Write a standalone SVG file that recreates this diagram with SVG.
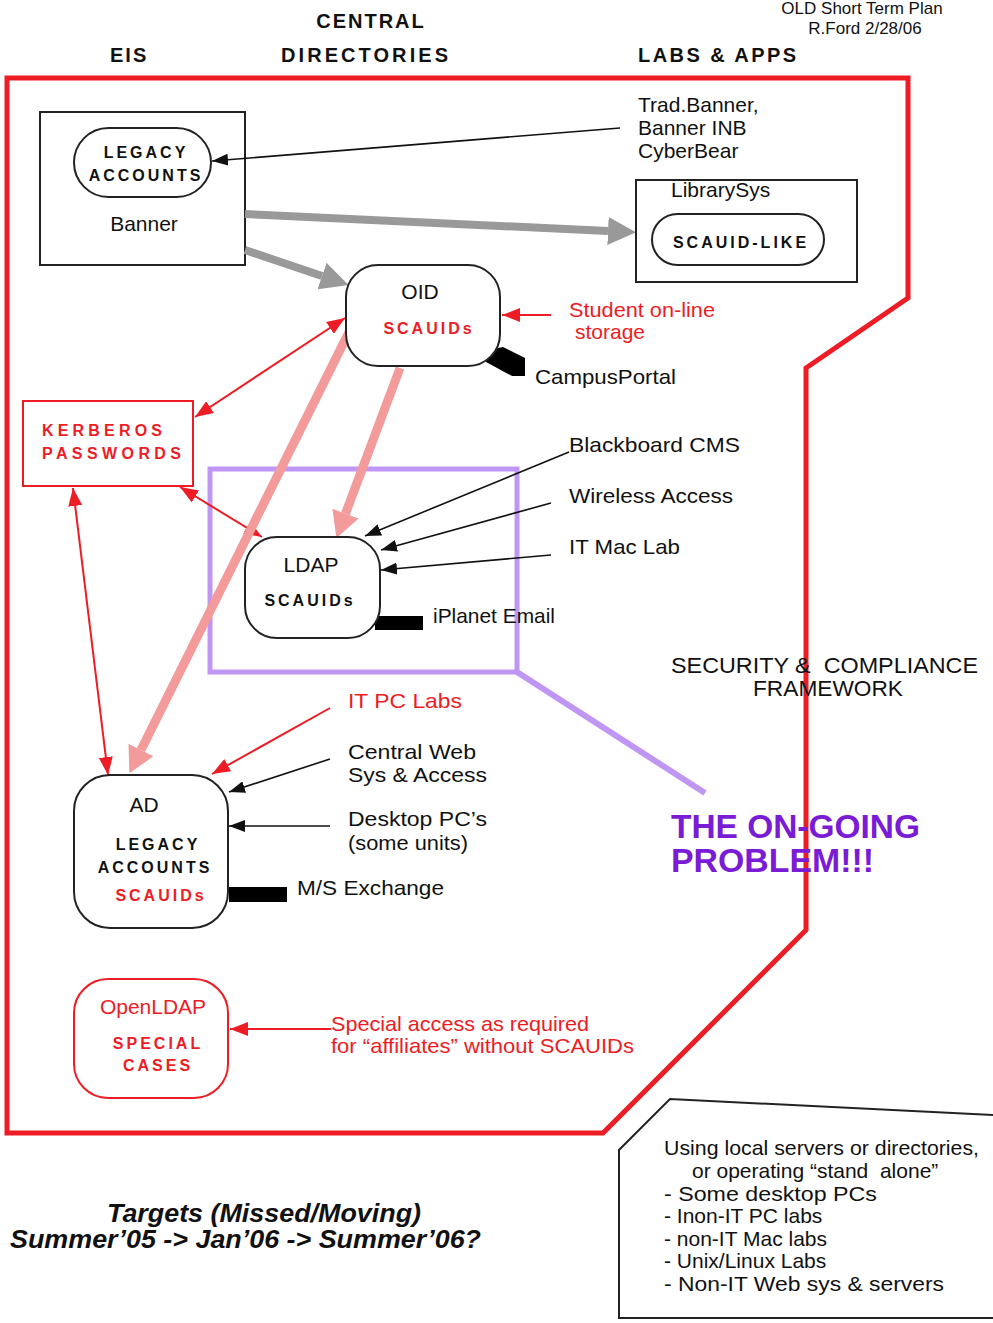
<svg xmlns="http://www.w3.org/2000/svg" width="993" height="1323" viewBox="0 0 993 1323">
<style>
text{font-family:"Liberation Sans",Arial,Helvetica,sans-serif;fill:#111}
.lbl{font-size:21px}
.hdr{font-size:20px;font-weight:bold;letter-spacing:2px}
.caps{font-size:16px;font-weight:bold;letter-spacing:3px}
.red{fill:#ee1c24}
.node{fill:#fff;stroke:#222;stroke-width:2}
.thin{stroke:#111;stroke-width:1.6;fill:none}
.rthin{stroke:#ee1c24;stroke-width:2;fill:none}
</style>
<defs>
<marker id="ab" markerUnits="userSpaceOnUse" markerWidth="16" markerHeight="12" refX="16" refY="6" orient="auto"><path d="M0,0 L16,6 L0,12 z" fill="#111"/></marker>
<marker id="ar" markerUnits="userSpaceOnUse" markerWidth="18" markerHeight="14" refX="18" refY="7" orient="auto-start-reverse"><path d="M0,0 L18,7 L0,14 z" fill="#ee1c24"/></marker>
<marker id="ag" markerUnits="userSpaceOnUse" markerWidth="28" markerHeight="28" refX="0" refY="14" orient="auto"><path d="M0,0 L28,14 L0,28 z" fill="#999"/></marker>
<marker id="ap" markerUnits="userSpaceOnUse" markerWidth="26" markerHeight="28" refX="0" refY="14" orient="auto"><path d="M0,0 L26,14 L0,28 z" fill="#f39b9b"/></marker>
</defs>
<rect width="993" height="1323" fill="#fff"/>

<g id="headers">
<text x="371" y="28" class="hdr" text-anchor="middle">CENTRAL</text>
<text x="110" y="62" class="hdr">EIS</text>
<text x="281" y="62" class="hdr" textLength="169">DIRECTORIES</text>
<text x="638" y="62" class="hdr" textLength="160">LABS &amp; APPS</text>
<text x="862" y="14" font-size="17" text-anchor="middle">OLD Short Term Plan</text>
<text x="865" y="34" font-size="17" text-anchor="middle">R.Ford 2/28/06</text>
</g>

<g id="frame">
<polygon points="7,78 908,78 908,298 806,368 806,930 603,1133 7,1133" fill="none" stroke="#ee1c24" stroke-width="5"/>
</g>

<g id="problem-box">
<polyline points="517,672 705,793" fill="none" stroke="#c096f5" stroke-width="6"/>
<rect x="210" y="469" width="307" height="203" fill="none" stroke="#c096f5" stroke-width="5"/>
</g>

<g id="banner">
<rect x="40" y="112" width="205" height="153" fill="none" stroke="#222" stroke-width="2"/>
<rect x="74" y="128" width="137" height="69" rx="34.5" class="node"/>
<text x="146" y="158" class="caps" font-size="17" text-anchor="middle">LEGACY</text>
<text x="146" y="181" class="caps" font-size="17" text-anchor="middle">ACCOUNTS</text>
<text x="144" y="231" class="lbl" text-anchor="middle">Banner</text>
</g>

<g id="connectors">
<line x1="620" y1="128" x2="212" y2="161" class="thin" marker-end="url(#ab)"/>
<line x1="245" y1="214" x2="608" y2="231" stroke="#999" stroke-width="8" marker-end="url(#ag)"/>
<line x1="245" y1="250" x2="322" y2="276" stroke="#999" stroke-width="8" marker-end="url(#ag)"/>
<line x1="551" y1="315" x2="502" y2="315" class="rthin" marker-end="url(#ar)"/>
<polygon points="488,350 503,347 525,358 525,376 512,376 486,362" fill="#000"/>
<line x1="195" y1="417" x2="345" y2="318" class="rthin" marker-start="url(#ar)" marker-end="url(#ar)"/>
<line x1="180" y1="487" x2="262" y2="537" class="rthin" marker-start="url(#ar)" marker-end="url(#ar)"/>
<line x1="73" y1="488" x2="108" y2="775" class="rthin" marker-start="url(#ar)" marker-end="url(#ar)"/>
<line x1="350" y1="330" x2="141" y2="750" stroke="#f39b9b" stroke-width="9" marker-end="url(#ap)"/>
<line x1="400" y1="368" x2="345.5" y2="513.6" stroke="#f39b9b" stroke-width="9" marker-end="url(#ap)"/>
<polyline points="569,452 365,536" class="thin" marker-end="url(#ab)"/>
<line x1="551" y1="503" x2="381" y2="550" class="thin" marker-end="url(#ab)"/>
<line x1="551" y1="555" x2="381" y2="570" class="thin" marker-end="url(#ab)"/>
<rect x="375" y="616" width="48" height="14" fill="#000"/>
<line x1="330" y1="708" x2="212" y2="774" class="rthin" marker-end="url(#ar)"/>
<line x1="330" y1="759" x2="229" y2="792" class="thin" marker-end="url(#ab)"/>
<line x1="330" y1="826" x2="229" y2="826" class="thin" marker-end="url(#ab)"/>
<rect x="229" y="887" width="58" height="15" fill="#000"/>
<line x1="331" y1="1029" x2="230" y2="1029" class="rthin" marker-end="url(#ar)"/>
</g>

<g id="trad-banner">
<text x="638" y="112" class="lbl">Trad.Banner,</text>
<text x="638" y="135" class="lbl">Banner INB</text>
<text x="638" y="158" class="lbl">CyberBear</text>
</g>

<g id="librarysys">
<rect x="636" y="180" width="221" height="102" fill="none" stroke="#222" stroke-width="2"/>
<text x="671" y="197" class="lbl">LibrarySys</text>
<rect x="652" y="214" width="172" height="51" rx="25.5" class="node"/>
<text x="741" y="248" class="caps" text-anchor="middle">SCAUID-LIKE</text>
</g>

<g id="oid">
<rect x="346" y="265" width="154" height="101" rx="32" class="node"/>
<text x="420" y="299" class="lbl" text-anchor="middle">OID</text>
<text x="429" y="334" class="caps red" text-anchor="middle">SCAUIDs</text>
</g>

<g id="student-storage">
<text x="569" y="317" class="lbl red" textLength="146" lengthAdjust="spacingAndGlyphs">Student on-line</text>
<text x="575" y="339" class="lbl red">storage</text>
</g>
<g id="campusportal"><text x="535" y="384" class="lbl" textLength="141" lengthAdjust="spacingAndGlyphs">CampusPortal</text></g>

<g id="kerberos">
<rect x="23" y="401" width="170" height="85" fill="#fff" stroke="#ee1c24" stroke-width="2"/>
<text x="42" y="436" class="caps red" font-size="17" textLength="123">KERBEROS</text>
<text x="42" y="459" class="caps red" font-size="17" textLength="142">PASSWORDS</text>
</g>

<g id="ldap">
<rect x="245" y="537" width="135" height="101" rx="32" class="node"/>
<text x="311" y="572" class="lbl" text-anchor="middle">LDAP</text>
<text x="310" y="606" class="caps" text-anchor="middle">SCAUIDs</text>
</g>

<g id="lab-labels">
<text x="569" y="452" class="lbl" textLength="171" lengthAdjust="spacingAndGlyphs">Blackboard CMS</text>
<text x="569" y="503" class="lbl" textLength="164" lengthAdjust="spacingAndGlyphs">Wireless Access</text>
<text x="569" y="554" class="lbl" textLength="111" lengthAdjust="spacingAndGlyphs">IT Mac Lab</text>
<text x="433" y="623" class="lbl" textLength="122" lengthAdjust="spacingAndGlyphs">iPlanet Email</text>
</g>

<g id="security">
<text x="671" y="673" font-size="22" textLength="307" lengthAdjust="spacingAndGlyphs" xml:space="preserve">SECURITY &amp;  COMPLIANCE</text>
<text x="753" y="696" font-size="22" textLength="150" lengthAdjust="spacingAndGlyphs">FRAMEWORK</text>
</g>

<g id="ongoing">
<text x="671" y="838" font-size="33" font-weight="bold" style="fill:#7a1cd6" textLength="249" lengthAdjust="spacingAndGlyphs">THE ON-GOING</text>
<text x="671" y="872" font-size="33" font-weight="bold" style="fill:#7a1cd6" textLength="203" lengthAdjust="spacingAndGlyphs">PROBLEM!!!</text>
</g>

<g id="ad-labels">
<text x="348" y="708" class="lbl red" textLength="114" lengthAdjust="spacingAndGlyphs">IT PC Labs</text>
<text x="348" y="759" class="lbl" textLength="128" lengthAdjust="spacingAndGlyphs">Central Web</text>
<text x="348" y="782" class="lbl" textLength="139" lengthAdjust="spacingAndGlyphs">Sys &amp; Access</text>
<text x="348" y="826" class="lbl" textLength="139" lengthAdjust="spacingAndGlyphs">Desktop PC’s</text>
<text x="348" y="850" class="lbl" textLength="120" lengthAdjust="spacingAndGlyphs">(some units)</text>
<text x="297" y="895" class="lbl" textLength="147" lengthAdjust="spacingAndGlyphs">M/S Exchange</text>
</g>

<g id="ad">
<rect x="74" y="775" width="154" height="153" rx="36" class="node"/>
<text x="144" y="812" class="lbl" text-anchor="middle">AD</text>
<text x="158" y="850" class="caps" text-anchor="middle">LEGACY</text>
<text x="155" y="873" class="caps" text-anchor="middle">ACCOUNTS</text>
<text x="161" y="901" class="caps red" text-anchor="middle">SCAUIDs</text>
</g>

<g id="openldap">
<rect x="74" y="979" width="154" height="119" rx="34" fill="#fff" stroke="#ee1c24" stroke-width="2"/>
<text x="153" y="1014" class="lbl red" text-anchor="middle">OpenLDAP</text>
<text x="158" y="1049" class="caps red" text-anchor="middle">SPECIAL</text>
<text x="158" y="1071" class="caps red" text-anchor="middle">CASES</text>
</g>

<g id="special-access">
<text x="331" y="1031" class="lbl red" textLength="258" lengthAdjust="spacingAndGlyphs">Special access as required</text>
<text x="331" y="1053" class="lbl red" textLength="303" lengthAdjust="spacingAndGlyphs">for “affiliates” without SCAUIDs</text>
</g>

<g id="local-servers">
<polyline points="995,1115 670,1099 619,1150 619,1318 995,1318" fill="#fff" stroke="#222" stroke-width="2"/>
<text x="664" y="1155" class="lbl" textLength="315" lengthAdjust="spacingAndGlyphs">Using local servers or directories,</text>
<text x="692" y="1178" class="lbl" xml:space="preserve">or operating “stand  alone”</text>
<text x="664" y="1201" class="lbl" textLength="213" lengthAdjust="spacingAndGlyphs">- Some desktop PCs</text>
<text x="664" y="1223" class="lbl">- Inon-IT PC labs</text>
<text x="664" y="1246" class="lbl">- non-IT Mac labs</text>
<text x="664" y="1268" class="lbl">- Unix/Linux Labs</text>
<text x="664" y="1291" class="lbl" textLength="280" lengthAdjust="spacingAndGlyphs">- Non-IT Web sys &amp; servers</text>
</g>

<g id="targets">
<text x="107" y="1222" font-size="25" font-weight="bold" font-style="italic" textLength="314" lengthAdjust="spacingAndGlyphs">Targets (Missed/Moving)</text>
<text x="10" y="1248" font-size="25" font-weight="bold" font-style="italic" textLength="471" lengthAdjust="spacingAndGlyphs">Summer’05 -&gt; Jan’06 -&gt; Summer’06?</text>
</g>
</svg>
